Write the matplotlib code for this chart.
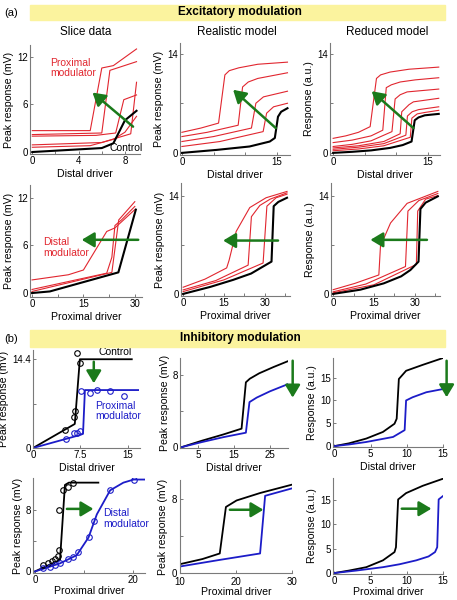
import matplotlib
matplotlib.use("Agg")
import matplotlib.pyplot as plt
from matplotlib.patches import Rectangle

plt.rcParams["font.family"] = ["Liberation Sans", "DejaVu Sans"]

RED = "#e1262f"
BLUE = "#1c1cc8"
GREEN = "#1b7a1b"
YELLOW = "#fbf39e"
GREY = "#7a7a7a"

# ---------------- (a) excitatory modulation ----------------
# slice data, distal driver
sd_ctrl_x = [0, 6, 7, 8, 9]
sd_ctrl_y = [0, 0.5, 1.1, 4.0, 5.2]
sd_mod_x = [[0, 5, 6, 7, 9],
            [0, 6.0, 6.7, 9],
            [0, 5.5, 7.2, 7.9, 9],
            [0, 6.0, 8.5, 9],
            [0, 5.0, 7.0, 8.0, 9]]
sd_mod_y = [[2.7, 2.7, 10.6, 10.9, 13.0],
            [2.2, 2.4, 10.3, 11.4],
            [2.0, 2.1, 2.4, 6.6, 7.2],
            [0.9, 1.2, 2.3, 8.8],
            [0.6, 0.8, 1.6, 2.5, 4.5]]

# realistic model, distal driver
rd_ctrl_x = [0, 5.5, 10.7, 13.9, 14.7, 15.2, 15.7, 16.7]
rd_ctrl_y = [0, 0.42, 0.9, 1.6, 2.1, 5.1, 5.8, 6.3]
rd_mod_x = [[0, 3, 5.8, 6.8, 7.5, 9, 12, 16.7],
            [0, 4, 8.9, 9.6, 10.5, 12, 16.7],
            [0, 5, 11.0, 11.7, 12.9, 16.7],
            [0, 6, 12.85, 13.4, 14.5, 16.7]]
rd_mod_y = [[2.9, 3.5, 4.2, 11.0, 11.6, 12.0, 12.5, 12.8],
            [2.3, 2.9, 3.9, 9.3, 10.0, 10.5, 11.3],
            [1.6, 2.3, 3.5, 7.0, 7.9, 8.7],
            [0.9, 1.6, 3.0, 5.6, 6.5, 7.0]]

# reduced model, distal driver
ud_ctrl_x = [0, 3, 6, 9, 11, 12.4, 12.9, 13.5, 14.5, 16.7]
ud_ctrl_y = [0, 0.15, 0.35, 0.7, 1.1, 1.6, 4.6, 5.0, 5.3, 5.5]
ud_mod_x = [[0, 2, 4, 5.85, 6.85, 7.5, 9, 12, 16.7],
            [0, 3, 6, 7.85, 8.4, 9.2, 10.6, 13, 16.7],
            [0, 3, 6, 9.3, 9.8, 10.6, 11.7, 16.7],
            [0, 4, 8, 10.6, 10.85, 12, 12.7, 16.7],
            [0, 4, 8, 11.5, 11.75, 12.5, 13.5, 16.7],
            [0, 4, 8, 12.2, 12.45, 13.3, 14.5, 16.7]]
ud_mod_y = [[2.05, 2.4, 2.9, 3.7, 10.5, 11.0, 11.4, 11.8, 12.1],
            [1.45, 1.8, 2.4, 3.2, 9.2, 9.6, 10.0, 10.3, 10.6],
            [0.9, 1.2, 1.7, 3.0, 7.6, 8.2, 8.6, 9.0],
            [0.7, 1.0, 1.6, 2.7, 5.8, 6.8, 7.2, 7.7],
            [0.5, 0.8, 1.3, 2.5, 5.2, 5.8, 6.1, 6.5],
            [0.3, 0.55, 1.0, 2.2, 4.9, 5.5, 5.7, 6.0]]

# slice data, proximal driver
sp_ctrl_x = [0, 5.2, 25.2, 30.3]
sp_ctrl_y = [0, 0.2, 2.6, 10.5]
sp_mod_x = [[0, 10.6, 15, 21.8, 24.2, 30],
            [0, 21.8, 23.3, 24.2, 26.1, 30],
            [0, 23.3, 25.3, 30]]
sp_mod_y = [[1.65, 2.3, 2.9, 7.75, 8.2, 10.5],
            [0.45, 2.5, 4.5, 8.5, 9.2, 10.9],
            [0.2, 2.6, 9.2, 11.5]]

# realistic model, proximal driver
rp_ctrl_x = [0, 10, 18.4, 25, 29.4, 32.5, 33.3, 35, 38.2]
rp_ctrl_y = [0, 1.0, 2.0, 2.9, 3.9, 4.6, 12.5, 13.1, 13.7]
rp_mod_x = [[0, 8, 16, 16.9, 19.5, 24.5, 30.5, 38.2],
            [0, 12, 23.9, 25.1, 28.2, 32, 38.2],
            [0, 15, 29.4, 30.8, 34.2, 38.2]]
rp_mod_y = [[0.95, 2.1, 3.7, 4.8, 8.9, 12.3, 13.7, 14.6],
            [0.57, 1.9, 4.1, 11.0, 12.6, 13.5, 14.4],
            [0.33, 2.0, 4.4, 12.5, 13.7, 14.2]]

# reduced model, proximal driver
up_ctrl_x = [0, 10, 18.6, 25, 28.4, 31.4, 32.1, 34, 38.5]
up_ctrl_y = [0, 0.6, 1.5, 2.5, 3.4, 4.6, 12.1, 13.0, 13.9]
up_mod_x = [[0, 8, 16.8, 17.4, 21.1, 27.2, 38.5],
            [0, 12, 26.6, 27.5, 31.5, 38.5],
            [0, 15, 30.6, 31.1, 34, 38.5]]
up_mod_y = [[0.6, 1.5, 2.7, 6.8, 10.1, 12.9, 14.6],
            [0.3, 1.4, 3.9, 11.8, 13.3, 14.3],
            [0.15, 1.3, 4.2, 11.8, 13.5, 14.0]]

# ---------------- (b) inhibitory modulation ----------------
# slice data, distal driver
si_ctrl_x = [0, 6.6, 7.4, 15.6]
si_ctrl_y = [0, 3.9, 14.4, 14.4]
si_ctrl_pts_x = [5.05, 6.4, 6.6, 6.9, 7.5]
si_ctrl_pts_y = [3.0, 5.1, 6.0, 15.4, 13.8]
si_mod_x = [0, 7.4, 7.9, 8.2, 16.6]
si_mod_y = [0, 2.1, 2.3, 9.4, 9.4]
si_mod_pts_x = [5.15, 6.4, 6.9, 7.5, 7.6, 9.0, 10.1, 12.2, 14.3]
si_mod_pts_y = [1.4, 2.5, 2.4, 2.8, 9.3, 8.85, 9.4, 9.3, 8.4]

# realistic model, distal driver
ri_ctrl_x = [0.5, 6, 12, 17.1, 18.3, 19.4, 22, 26, 30]
ri_ctrl_y = [0, 0.7, 1.4, 2.05, 7.2, 7.6, 8.2, 8.9, 9.55]
ri_mod_x = [0.5, 6, 12, 18.3, 19.3, 21.3, 25, 30]
ri_mod_y = [0, 0.55, 1.1, 1.6, 5.0, 5.5, 6.2, 7.0]

# reduced model, distal driver
ui_ctrl_x = [0, 2, 4.4, 6.7, 8.3, 8.6, 8.9, 9.9, 12.2, 15]
ui_ctrl_y = [0, 0.6, 1.65, 3.1, 4.9, 6.0, 14.7, 16.5, 17.8, 19.3]
ui_mod_x = [0, 2, 4.4, 8.1, 9.7, 9.9, 10.8, 12.7, 15]
ui_mod_y = [0, 0.35, 0.9, 2.0, 3.5, 10.0, 10.7, 11.8, 12.5]

# slice data, proximal driver
sq_ctrl_x = [0, 5.1, 6.1, 6.9, 12.9]
sq_ctrl_y = [0, 1.5, 11.2, 11.5, 11.5]
sq_ctrl_pts_x = [1.7, 2.7, 3.4, 4.1, 4.6, 4.8, 4.95, 5.8, 6.8, 7.8]
sq_ctrl_pts_y = [0.85, 1.1, 1.4, 1.6, 2.0, 2.75, 7.9, 10.5, 10.9, 11.5]
sq_mod_x = [0, 5.1, 8.5, 10.9, 12.6, 15.3, 18, 20.1, 22.4]
sq_mod_y = [0, 1.05, 2.1, 4.4, 7.4, 10.5, 11.5, 11.9, 11.9]
sq_mod_pts_x = [1.7, 3.1, 4.1, 5.1, 6.8, 7.8, 8.8, 10.9, 12.0, 15.2, 20.1]
sq_mod_pts_y = [0.4, 0.6, 0.8, 1.1, 1.6, 1.9, 2.5, 4.5, 6.5, 10.5, 11.9]

# realistic model, proximal driver
rq_ctrl_x = [10, 14, 17.1, 18.2, 20.1, 24.3, 30]
rq_ctrl_y = [0.95, 1.5, 2.1, 7.1, 7.8, 8.6, 9.5]
rq_mod_x = [10, 17, 24.3, 25.2, 27.3, 30]
rq_mod_y = [0.7, 1.4, 2.1, 8.3, 8.65, 9.1]

# reduced model, proximal driver
uq_ctrl_x = [0, 2, 4.4, 6.7, 8.3, 8.5, 8.8, 9.9, 12.2, 14.9]
uq_ctrl_y = [0, 0.5, 1.2, 2.6, 4.3, 5.3, 15.1, 16.4, 17.9, 19.3]
uq_mod_x = [0, 3, 6.7, 9, 11.3, 13.0, 13.9, 14.2, 14.4, 15]
uq_mod_y = [0, 0.5, 1.2, 1.8, 2.6, 3.4, 4.3, 5.3, 15.1, 15.8]

fig = plt.figure(figsize=(4.57, 6.0), dpi=100)


def box(l, r, t, b):
    return fig.add_axes([l / 457, 1 - b / 600, (r - l) / 457, (b - t) / 600])


def style(ax, xlim, ylim, xt, xtl, yt, ytl):
    for s in ["top", "right"]:
        ax.spines[s].set_visible(False)
    for s in ["left", "bottom"]:
        ax.spines[s].set_color(GREY)
        ax.spines[s].set_linewidth(0.8)
    ax.set_xlim(*xlim)
    ax.set_ylim(*ylim)
    ax.set_xticks(xt)
    ax.set_xticklabels(xtl)
    ax.set_yticks(yt)
    ax.set_yticklabels(ytl)
    ax.tick_params(direction="in", length=2.5, width=0.7, color=GREY,
                   labelsize=7, pad=1.5)


def arrow(ax, x0, y0, x1, y1):
    ax.annotate("", xy=(x1, y1), xytext=(x0, y0),
                arrowprops=dict(arrowstyle="-|>,head_length=0.75,head_width=0.45",
                                color=GREEN, lw=1.8, shrinkA=0, shrinkB=0),
                annotation_clip=False)


lab = dict(fontsize=7.6, labelpad=2)
lab_low = dict(fontsize=7.6, labelpad=0.5)

# banners
for y0, y1, txt, tag in [(5, 20, "Excitatory modulation", "(a)"),
                         (330, 347, "Inhibitory modulation", "(b)")]:
    fig.patches.append(Rectangle((30 / 457, 1 - y1 / 600), 415 / 457, (y1 - y0) / 600,
                                 transform=fig.transFigure, color=YELLOW, zorder=0))
    fig.text(240 / 457, 1 - (y0 + y1) / 2 / 600, txt, ha="center", va="center",
             fontsize=8.5, fontweight="bold")
    fig.text(4 / 457, 1 - (y0 + y1) / 2 / 600, tag, ha="left", va="center", fontsize=8)

for x, t in [(86, "Slice data"), (237, "Realistic model"), (387, "Reduced model")]:
    fig.text(x / 457, 1 - 32 / 600, t, ha="center", va="center", fontsize=8.5)

# row 1
ax = box(30, 140, 45, 154)
for xs, ys in zip(sd_mod_x, sd_mod_y):
    ax.plot(xs, ys, color=RED, lw=0.8)
ax.plot(sd_ctrl_x, sd_ctrl_y, color="black", lw=1.5)
arrow(ax, 8.7, 3.2, 5.2, 7.5)
ax.text(1.55, 10.6, "Proximal\nmodulator", color=RED, fontsize=7.5, ha="left",
        va="center", linespacing=1.1)
ax.text(9.5, 0.5, "Control", fontsize=7.5, ha="right", va="center")
style(ax, (-0.2, 9.3), (-0.25, 13.5), [0, 2, 4, 6, 8], ["0", "", "4", "", "8"],
      [0, 6, 12], ["0", "6", "12"])
ax.set_ylabel("Peak response (mV)", **lab)
ax.set_xlabel("Distal driver", **lab)

ax = box(180, 290, 43, 155)
for xs, ys in zip(rd_mod_x, rd_mod_y):
    ax.plot(xs, ys, color=RED, lw=0.8)
ax.plot(rd_ctrl_x, rd_ctrl_y, color="black", lw=1.5)
arrow(ax, 14.85, 3.5, 8.1, 8.9)
style(ax, (-0.3, 17.1), (-0.3, 15.5), [0, 5, 10, 15], ["0", "", "", "15"],
      [0, 7, 14], ["0", "", "14"])
ax.set_ylabel("Peak response (mV)", **lab)
ax.set_xlabel("Distal driver", **lab)

ax = box(330, 440, 43, 155)
for xs, ys in zip(ud_mod_x, ud_mod_y):
    ax.plot(xs, ys, color=RED, lw=0.8)
ax.plot(ud_ctrl_x, ud_ctrl_y, color="black", lw=1.5)
arrow(ax, 12.7, 3.5, 6.1, 8.7)
style(ax, (-0.5, 16.9), (-0.3, 15.5), [0, 5, 10, 15], ["0", "", "", "15"],
      [0, 7, 14], ["0", "", "14"])
ax.set_ylabel("Response (a.u.)", **lab)
ax.set_xlabel("Distal driver", **lab)

# row 2
ax = box(30, 142, 185, 297)
for xs, ys in zip(sp_mod_x, sp_mod_y):
    ax.plot(xs, ys, color=RED, lw=0.8)
ax.plot(sp_ctrl_x, sp_ctrl_y, color="black", lw=1.5)
arrow(ax, 31, 6.7, 14.5, 6.7)
ax.text(3.3, 5.7, "Distal\nmodulator", color=RED, fontsize=7.5, ha="left",
        va="center", linespacing=1.1)
style(ax, (-0.6, 32.1), (-0.5, 13.6), [0, 7.5, 15, 22.5, 30], ["0", "", "15", "", "30"],
      [0, 6, 12], ["0", "6", "12"])
ax.set_ylabel("Peak response (mV)", **lab)
ax.set_xlabel("Proximal driver", **lab)

ax = box(181, 290, 183, 296)
for xs, ys in zip(rp_mod_x, rp_mod_y):
    ax.plot(xs, ys, color=RED, lw=0.8)
ax.plot(rp_ctrl_x, rp_ctrl_y, color="black", lw=1.5)
arrow(ax, 34.9, 7.6, 14.7, 7.6)
style(ax, (-0.8, 39.3), (-0.3, 15.8), [0, 7.5, 15, 22.5, 30, 37.5], ["0", "", "15", "", "30", ""],
      [0, 7, 14], ["0", "", "14"])
ax.set_ylabel("Peak response (mV)", **lab)
ax.set_xlabel("Proximal driver", **lab)

ax = box(331, 440, 183, 296)
for xs, ys in zip(up_mod_x, up_mod_y):
    ax.plot(xs, ys, color=RED, lw=0.8)
ax.plot(up_ctrl_x, up_ctrl_y, color="black", lw=1.5)
arrow(ax, 34.5, 7.7, 13.7, 7.7)
style(ax, (-0.8, 39.3), (-0.3, 15.8), [0, 7.5, 15, 22.5, 30, 37.5], ["0", "", "15", "", "30", ""],
      [0, 7, 14], ["0", "", "14"])
ax.set_ylabel("Response (a.u.)", **lab)
ax.set_xlabel("Proximal driver", **lab)

# row 3
ax = box(33, 140, 350, 448)
ax.plot(si_ctrl_x, si_ctrl_y, color="black", lw=1.3)
ax.plot(si_mod_x, si_mod_y, color=BLUE, lw=1.3)
ax.plot(si_ctrl_pts_x, si_ctrl_pts_y, "o", mfc="none", mec="black", ms=4, mew=0.8)
ax.plot(si_mod_pts_x, si_mod_pts_y, "o", mfc="none", mec=BLUE, ms=4, mew=0.8)
arrow(ax, 9.6, 14.0, 9.6, 10.5)
ax.text(13, 15.6, "Control", fontsize=7.5, ha="center", va="center")
ax.text(9.8, 6.0, "Proximal\nmodulator", color=BLUE, fontsize=7.5, ha="left",
        va="center", linespacing=1.1)
style(ax, (0, 16.9), (0, 15.9), [0, 7.5, 15], ["0", "7.5", "15"],
      [0, 7.2, 14.4], ["0", "", "14.4"])
ax.set_ylabel("Peak response (mV)", **lab)
ax.set_xlabel("Distal driver", **lab)

ax = box(180, 288, 358, 448)
ax.plot(ri_ctrl_x, ri_ctrl_y, color="black", lw=1.3)
ax.plot(ri_mod_x, ri_mod_y, color=BLUE, lw=1.3)
arrow(ax, 31.3, 9.6, 31.3, 5.5)
style(ax, (0, 30), (-0.1, 9.9), [5, 15, 25], ["5", "15", "25"],
      [0, 4, 8], ["0", "", "8"])
ax.set_ylabel("Peak response (mV)", **lab)
ax.set_xlabel("Distal driver", **lab)

ax = box(333, 443, 358, 447)
ax.plot(ui_ctrl_x, ui_ctrl_y, color="black", lw=1.3)
ax.plot(ui_mod_x, ui_mod_y, color=BLUE, lw=1.3)
arrow(ax, 15.5, 18.7, 15.5, 10.7)
style(ax, (-0.2, 15), (-0.2, 19.3), [0, 5, 10, 15], ["0", "5", "10", "15"],
      [0, 5, 10, 15], ["0", "5", "10", "15"])
ax.set_ylabel("Response (a.u.)", **lab)
ax.set_xlabel("Distal driver", **lab)

# row 4
ax = box(33, 145, 478, 573)
ax.plot(sq_ctrl_x, sq_ctrl_y, color="black", lw=1.3)
ax.plot(sq_mod_x, sq_mod_y, color=BLUE, lw=1.3)
ax.plot(sq_ctrl_pts_x, sq_ctrl_pts_y, "o", mfc="none", mec="black", ms=4, mew=0.8)
ax.plot(sq_mod_pts_x, sq_mod_pts_y, "o", mfc="none", mec=BLUE, ms=4, mew=0.8)
arrow(ax, 6.5, 8.1, 11.9, 8.1)
ax.text(13.9, 6.9, "Distal\nmodulator", color=BLUE, fontsize=7.5, ha="left",
        va="center", linespacing=1.1)
style(ax, (-0.4, 22.4), (-0.2, 12.1), [0, 10, 20], ["0", "", "20"],
      [0, 4, 8], ["0", "", "8"])
ax.set_ylabel("Peak response (mV)", **lab)
ax.set_xlabel("Proximal driver", **lab_low)

ax = box(180, 292, 480, 573)
ax.plot(rq_ctrl_x, rq_ctrl_y, color="black", lw=1.3)
ax.plot(rq_mod_x, rq_mod_y, color=BLUE, lw=1.3)
arrow(ax, 18.9, 6.8, 24.9, 6.8)
style(ax, (10, 30), (0, 10), [10, 20, 30], ["10", "20", "30"],
      [0, 4, 8], ["0", "", "8"])
ax.tick_params(axis="x", pad=3)
ax.tick_params(axis="y", pad=2.5)
ax.set_ylabel("Peak response (mV)", **lab)
ax.set_xlabel("Proximal driver", fontsize=7.6, labelpad=0)

ax = box(333, 443, 478, 574)
ax.plot(uq_ctrl_x, uq_ctrl_y, color="black", lw=1.3)
ax.plot(uq_mod_x, uq_mod_y, color=BLUE, lw=1.3)
arrow(ax, 9.3, 13.2, 13.4, 13.2)
style(ax, (-0.2, 15), (-0.2, 19.5), [0, 5, 10, 15], ["0", "5", "10", "15"],
      [0, 5, 10, 15], ["0", "5", "10", "15"])
ax.set_ylabel("Response (a.u.)", **lab)
ax.set_xlabel("Proximal driver", **lab_low)

fig.savefig("out.png", dpi=100)
